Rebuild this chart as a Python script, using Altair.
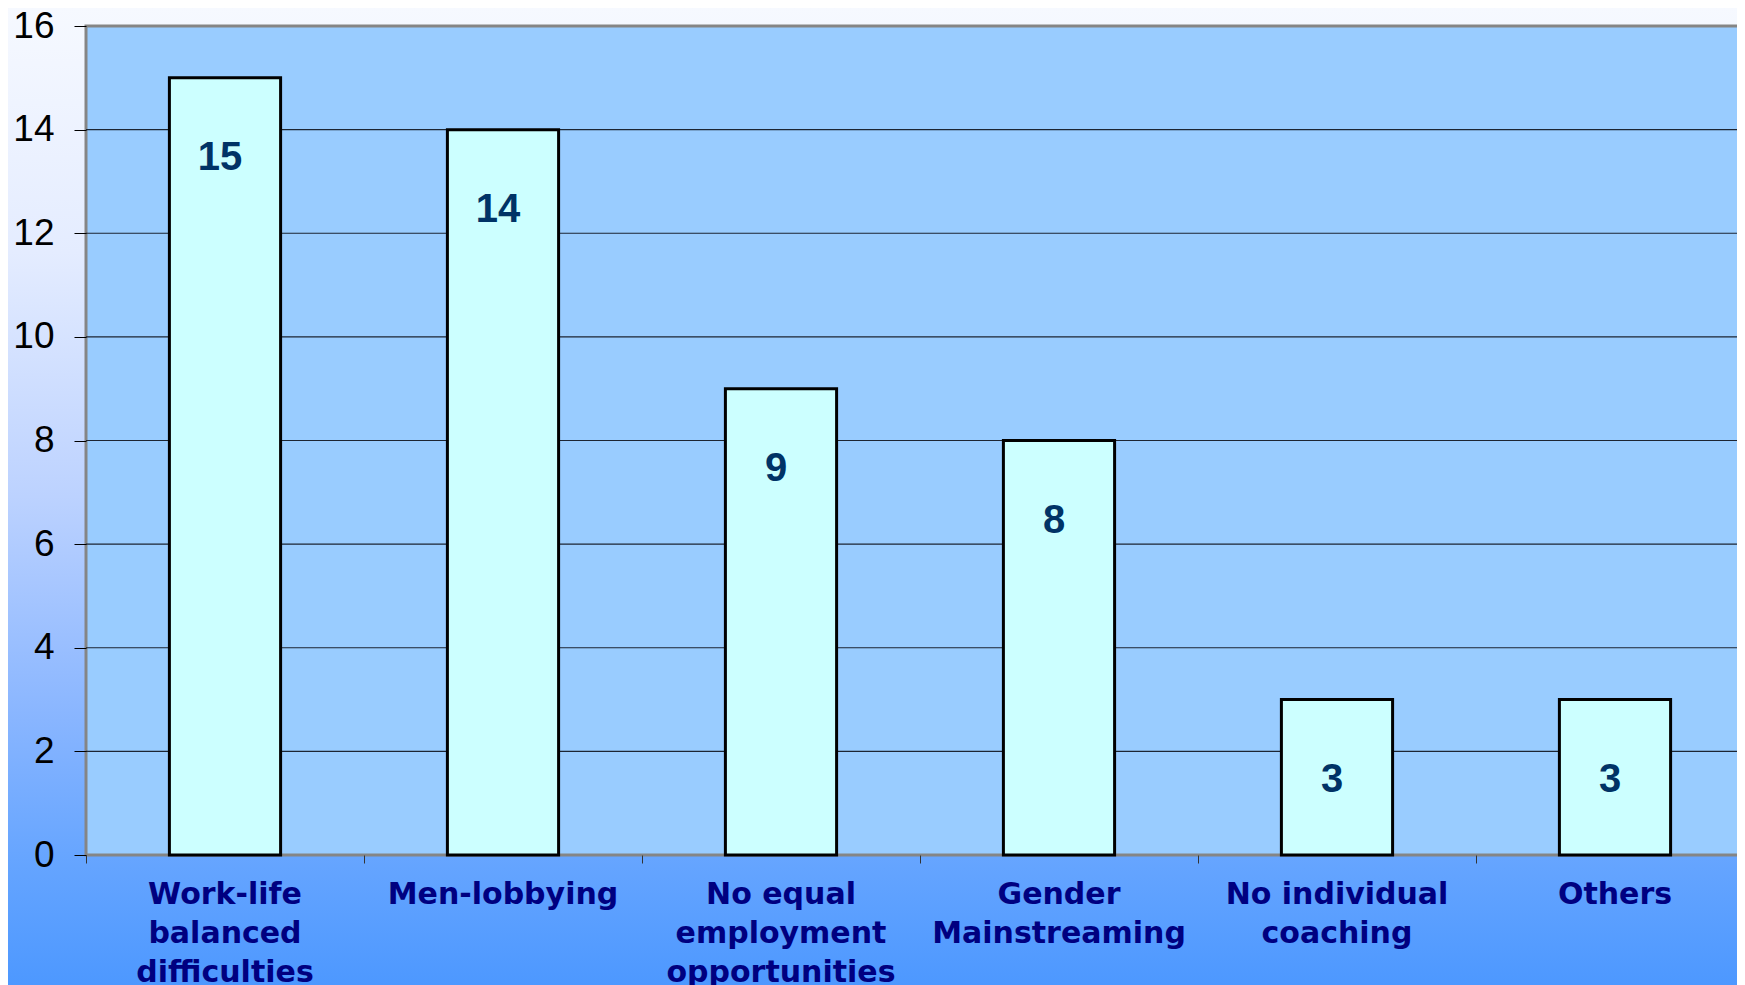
import altair as alt
import pandas as pd

category_lines = [
    ["Work-life", "balanced", "difficulties"],
    ["Men-lobbying"],
    ["No equal", "employment", "opportunities"],
    ["Gender", "Mainstreaming"],
    ["No individual", "coaching"],
    ["Others"],
]
values = [15, 14, 9, 8, 3, 3]
y_ticks = [0, 2, 4, 6, 8, 10, 12, 14, 16]
grid_values = [2, 4, 6, 8, 10, 12, 14]

categories = ["\n".join(l) for l in category_lines]
df = pd.DataFrame({"cat": categories, "val": values})
grid_df = pd.DataFrame({"g": grid_values})
one = pd.DataFrame({"a": [0]})

W, H = 1668, 829
PL, PT, PR, PB = 78, 18, -17, 130

yscale = alt.Scale(domain=[0, 16], nice=False, zero=True)
xscale = alt.Scale(domain=categories, paddingInner=0, paddingOuter=0)

bg = alt.Chart(one).mark_rect(
    fill=alt.Gradient(
        gradient="linear",
        stops=[
            alt.GradientStop(offset=0, color="#f6f9ff"),
            alt.GradientStop(offset=0.25, color="#e4ecff"),
            alt.GradientStop(offset=0.5, color="#bcd2ff"),
            alt.GradientStop(offset=0.72, color="#8ab6ff"),
            alt.GradientStop(offset=0.88, color="#64a4ff"),
            alt.GradientStop(offset=1, color="#4d98ff"),
        ],
        x1=0, y1=0, x2=0, y2=1,
    )
).encode(
    x=alt.value(-PL), x2=alt.value(W + 40),
    y=alt.value(-PT), y2=alt.value(H + PB),
)

plot_bg = alt.Chart(one).mark_rect(
    fill="#99ccff", stroke="#858585", strokeWidth=3
).encode(
    x=alt.value(0), x2=alt.value(W + 10),
    y=alt.value(0), y2=alt.value(H),
)

grid = alt.Chart(grid_df).mark_rule(color="#1c2533", strokeWidth=1.2).encode(
    y=alt.Y("g:Q", scale=yscale)
)

bars = alt.Chart(df).mark_bar(
    width=alt.RelativeBandSize(0.4),
    fill="#ccffff", stroke="#000000", strokeWidth=3,
).encode(
    x=alt.X(
        "cat:N", scale=xscale, sort=categories,
        axis=alt.Axis(
            title=None, labelAngle=0, domain=False,
            ticks=True, tickSize=8, tickColor="#333333", bandPosition=0,
            labelExpr="split(datum.label, '\\n')",
            labelFont="DejaVu Sans", labelFontWeight="bold",
            labelFontSize=30, labelColor="#000080",
            labelLineHeight=39, labelPadding=16, labelBaseline="top",
            labelLimit=400, zindex=1,
        ),
    ),
    y=alt.Y(
        "val:Q", scale=yscale,
        axis=alt.Axis(
            title=None, values=y_ticks, grid=False, domain=False,
            tickSize=12, tickColor="#000000", tickWidth=1,
            labelFont="Liberation Sans", labelFontSize=37,
            labelColor="#000000", labelPadding=20, zindex=1,
        ),
    ),
)

labels = alt.Chart(df).mark_text(
    font="Liberation Sans", fontWeight="bold", fontSize=40,
    color="#003366", baseline="middle", align="center", dy=80, dx=-5,
).encode(
    x=alt.X("cat:N", scale=xscale, sort=categories),
    y=alt.Y("val:Q", scale=yscale),
    text=alt.Text("val:Q"),
)

chart = alt.layer(bg, plot_bg, grid, bars, labels).properties(
    width=W, height=H,
    autosize=alt.AutoSizeParams(type="none"),
    padding={"left": PL, "top": PT, "right": PR, "bottom": PB},
).configure_view(stroke=None, fill=None)

chart.save("out.html", embed_options={"renderer": "svg", "actions": False})
